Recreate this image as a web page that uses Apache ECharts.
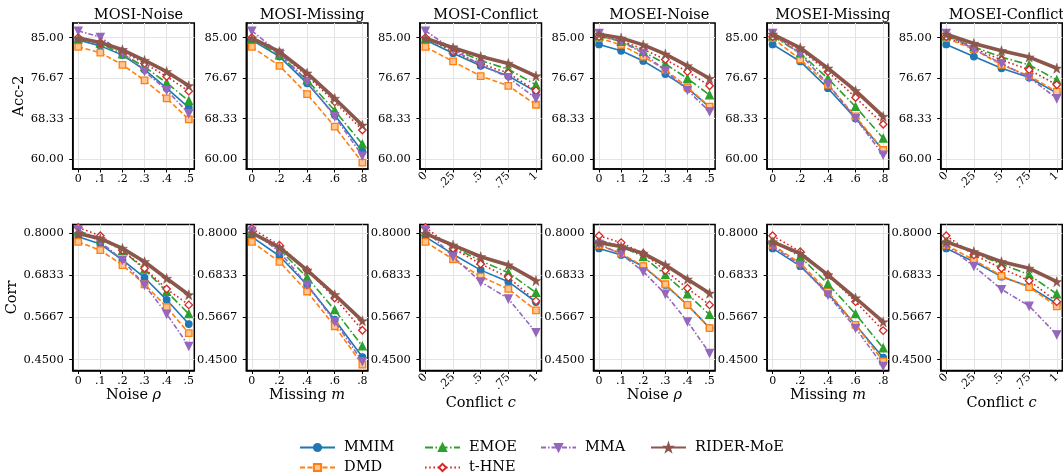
<!DOCTYPE html>
<html><head><meta charset="utf-8">
<script src="https://cdn.jsdelivr.net/npm/echarts@6/dist/echarts.min.js"></script>
<style>html,body{margin:0;padding:0;background:#fff}#c{width:1063px;height:474px}</style>
</head><body><div id="c"></div>
<script>
const methods = ['MMIM', 'DMD', 'EMOE', 't-HNE', 'MMA', 'RIDER-MoE'];
const panelTitles = ['MOSI-Noise', 'MOSI-Missing', 'MOSI-Conflict', 'MOSEI-Noise', 'MOSEI-Missing', 'MOSEI-Conflict'];
const xNoise = [0, 0.1, 0.2, 0.3, 0.4, 0.5];
const xMissing = [0, 0.2, 0.4, 0.6, 0.8];
const xConflict = [0, 0.25, 0.5, 0.75, 1];
const xNoiseLabels = ['0', '.1', '.2', '.3', '.4', '.5'];
const xMissingLabels = ['0', '.2', '.4', '.6', '.8'];
const xConflictLabels = ['0', '.25', '.5', '.75', '1'];
const accTicks = [60, 68.3333, 76.6667, 85];
const corrTicks = [0.45, 0.56667, 0.68333, 0.8];

// Acc-2 (rows: MMIM, DMD, EMOE, t-HNE, MMA, RIDER-MoE)
const accMosiNoise = [
  [84.5, 83.3, 81.4, 78.4, 74.6, 70.6],
  [83.1, 81.9, 79.4, 76.2, 72.5, 68.2],
  [84.7, 83.8, 81.6, 79.0, 75.7, 72.0],
  [85.0, 84.0, 82.1, 79.7, 77.0, 74.0],
  [86.4, 85.1, 81.9, 78.1, 74.2, 69.4],
  [84.9, 84.0, 82.5, 80.3, 78.0, 75.1]
];
const accMosiMissing = [
  [84.5, 81.1, 75.6, 69.1, 61.6],
  [83.1, 79.2, 73.4, 66.7, 59.3],
  [84.7, 81.4, 76.3, 70.0, 63.1],
  [85.0, 81.9, 77.1, 71.8, 66.0],
  [86.4, 81.8, 76.0, 68.8, 60.7],
  [84.9, 82.1, 77.7, 72.5, 67.0]
];
const accMosiConflict = [
  [84.5, 81.8, 79.2, 77.1, 73.9],
  [83.1, 80.1, 77.1, 75.1, 71.2],
  [84.7, 82.6, 80.3, 78.5, 75.3],
  [85.0, 82.1, 79.6, 77.7, 74.1],
  [86.4, 82.5, 79.4, 76.8, 72.5],
  [84.9, 82.9, 81.1, 79.7, 77.1]
];
const accMoseiNoise = [
  [83.6, 82.3, 80.2, 77.5, 74.6, 70.7],
  [84.9, 83.5, 81.1, 78.4, 74.8, 70.8],
  [85.3, 84.2, 82.1, 79.6, 76.6, 73.2],
  [85.2, 84.4, 82.6, 80.5, 78.0, 75.1],
  [85.9, 84.2, 81.8, 78.2, 74.2, 69.8],
  [85.7, 84.9, 83.5, 81.6, 79.2, 76.6]
];
const accMoseiMissing = [
  [83.6, 80.1, 74.6, 68.4, 61.9],
  [84.9, 80.5, 75.3, 68.8, 61.9],
  [85.3, 81.8, 76.6, 70.8, 64.3],
  [85.2, 82.5, 78.0, 72.7, 67.2],
  [85.9, 81.6, 75.5, 68.4, 60.9],
  [85.7, 82.9, 78.7, 74.1, 68.8]
];
const accMoseiConflict = [
  [83.6, 81.1, 78.7, 76.8, 73.6],
  [84.9, 82.6, 79.4, 77.1, 73.9],
  [85.3, 83.1, 81.0, 79.4, 76.3],
  [85.2, 82.8, 80.4, 78.4, 75.3],
  [85.9, 82.6, 79.7, 76.8, 72.5],
  [85.7, 83.8, 82.3, 81.0, 78.7]
];

// Corr
const corrMosiNoise = [
  [0.789, 0.769, 0.725, 0.676, 0.615, 0.548],
  [0.775, 0.752, 0.711, 0.658, 0.595, 0.523],
  [0.805, 0.784, 0.751, 0.699, 0.638, 0.576],
  [0.815, 0.792, 0.752, 0.702, 0.645, 0.601],
  [0.809, 0.775, 0.725, 0.656, 0.576, 0.487],
  [0.798, 0.784, 0.757, 0.720, 0.674, 0.629]
];
const corrMosiMissing = [
  [0.789, 0.736, 0.656, 0.560, 0.457],
  [0.775, 0.720, 0.638, 0.542, 0.436],
  [0.803, 0.754, 0.677, 0.587, 0.487],
  [0.812, 0.766, 0.697, 0.620, 0.531],
  [0.805, 0.748, 0.656, 0.555, 0.445],
  [0.800, 0.760, 0.697, 0.629, 0.557]
];
const corrMosiConflict = [
  [0.789, 0.741, 0.697, 0.665, 0.609],
  [0.775, 0.727, 0.679, 0.645, 0.586],
  [0.803, 0.760, 0.723, 0.690, 0.635],
  [0.815, 0.757, 0.714, 0.677, 0.612],
  [0.809, 0.734, 0.665, 0.618, 0.525],
  [0.798, 0.766, 0.734, 0.711, 0.668]
];
const corrMoseiNoise = [
  [0.757, 0.739, 0.707, 0.656, 0.601, 0.537],
  [0.766, 0.743, 0.708, 0.658, 0.601, 0.537],
  [0.780, 0.763, 0.734, 0.684, 0.631, 0.574],
  [0.792, 0.773, 0.743, 0.696, 0.647, 0.601],
  [0.769, 0.741, 0.693, 0.631, 0.555, 0.468],
  [0.773, 0.762, 0.743, 0.711, 0.672, 0.633]
];
const corrMoseiMissing = [
  [0.757, 0.708, 0.633, 0.546, 0.455],
  [0.766, 0.716, 0.638, 0.546, 0.445],
  [0.780, 0.734, 0.659, 0.576, 0.482],
  [0.792, 0.748, 0.684, 0.610, 0.530],
  [0.763, 0.711, 0.629, 0.537, 0.432],
  [0.775, 0.743, 0.684, 0.620, 0.554]
];
const corrMoseiConflict = [
  [0.757, 0.720, 0.679, 0.652, 0.604],
  [0.766, 0.725, 0.681, 0.650, 0.597],
  [0.780, 0.743, 0.714, 0.684, 0.631],
  [0.792, 0.739, 0.702, 0.668, 0.610],
  [0.766, 0.708, 0.644, 0.598, 0.519],
  [0.775, 0.748, 0.720, 0.702, 0.665]
];

const FONT = 'DejaVu Serif';
const STAR = 'path://M50,0 L61.2,34.5 L97.6,34.5 L68.2,55.9 L79.4,90.5 L50,69.1 L20.6,90.5 L31.8,55.9 L2.4,34.5 L38.8,34.5 Z';
const DOWN = 'path://M0,0 L10,0 L5,9 Z';
const styleDefs = [
  {color: '#1f77b4', dash: 'solid', width: 1.6, symbol: 'circle', size: 6.5, fill: '#1f77b4'},
  {color: '#ff7f0e', dash: [5, 2.5], width: 1.6, symbol: 'rect', size: 6.5, fill: '#ffc48f'},
  {color: '#2ca02c', dash: [8, 2.5, 1.5, 2.5], width: 1.6, symbol: 'triangle', size: 7.5, fill: '#2ca02c'},
  {color: '#d62728', dash: [1.6, 2.6], width: 1.6, symbol: 'diamond', size: 7.5, fill: '#ffffff'},
  {color: '#9467bd', dash: [5, 2, 1.5, 2], width: 1.6, symbol: DOWN, size: 7.5, fill: '#9467bd'},
  {color: '#8c564b', dash: 'solid', width: 3.6, symbol: STAR, size: 10, fill: '#8c564b'}
];

const panels = [
  {row: 0, col: 0, xs: xNoise, labels: xNoiseLabels, data: accMosiNoise, xname: 'Noise {i|ρ}'},
  {row: 0, col: 1, xs: xMissing, labels: xMissingLabels, data: accMosiMissing, xname: 'Missing {i|m}'},
  {row: 0, col: 2, xs: xConflict, labels: xConflictLabels, data: accMosiConflict, xname: 'Conflict {i|c}'},
  {row: 0, col: 3, xs: xNoise, labels: xNoiseLabels, data: accMoseiNoise, xname: 'Noise {i|ρ}'},
  {row: 0, col: 4, xs: xMissing, labels: xMissingLabels, data: accMoseiMissing, xname: 'Missing {i|m}'},
  {row: 0, col: 5, xs: xConflict, labels: xConflictLabels, data: accMoseiConflict, xname: 'Conflict {i|c}'},
  {row: 1, col: 0, xs: xNoise, labels: xNoiseLabels, data: corrMosiNoise, xname: 'Noise {i|ρ}'},
  {row: 1, col: 1, xs: xMissing, labels: xMissingLabels, data: corrMosiMissing, xname: 'Missing {i|m}'},
  {row: 1, col: 2, xs: xConflict, labels: xConflictLabels, data: corrMosiConflict, xname: 'Conflict {i|c}'},
  {row: 1, col: 3, xs: xNoise, labels: xNoiseLabels, data: corrMoseiNoise, xname: 'Noise {i|ρ}'},
  {row: 1, col: 4, xs: xMissing, labels: xMissingLabels, data: corrMoseiMissing, xname: 'Missing {i|m}'},
  {row: 1, col: 5, xs: xConflict, labels: xConflictLabels, data: corrMoseiConflict, xname: 'Conflict {i|c}'}
];

const GL = 72.7, GSTEP = 173.6, GW = 121.6, GH = 146;
const GT = [23, 224.5];
const grids = [], xAxes = [], yAxes = [], series = [], titles = [];

panels.forEach((p, i) => {
  const left = GL + GSTEP * p.col;
  grids.push({left: left, top: GT[p.row], width: GW, height: GH, show: true,
    borderColor: '#000', borderWidth: 1.5, backgroundColor: 'transparent', containLabel: false, outerBoundsMode: 'none'});
  const xmin = p.xs[0], xmax = p.xs[p.xs.length - 1], span = xmax - xmin;
  const isConflict = p.labels === xConflictLabels;
  xAxes.push({
    type: 'value', gridIndex: i, min: xmin - 0.05 * span, max: xmax + 0.05 * span,
    axisLine: {show: true, onZero: false, lineStyle: {color: '#000', width: 1.5}},
    axisTick: {show: true, inside: false, length: 3.5, lineStyle: {color: '#000', width: 1}, customValues: p.xs},
    splitLine: {show: true, lineStyle: {color: '#e4e4e4', width: 1}},
    axisLabel: {show: true, customValues: p.xs, margin: 5, rotate: isConflict ? 45 : 0,
      fontFamily: FONT, fontSize: 11, color: '#000', hideOverlap: false,
      formatter: v => { const k = p.xs.findIndex(x => Math.abs(x - v) < 1e-9); return k >= 0 ? p.labels[k] : ''; }},
    name: p.row === 1 ? p.xname : '', nameLocation: 'middle', nameGap: isConflict ? 25 : 17,
    nameTextStyle: {fontFamily: FONT, fontSize: 14.5, color: '#000', verticalAlign: 'top',
      rich: {i: {fontFamily: FONT, fontStyle: 'italic', fontSize: 14.5, color: '#000', verticalAlign: 'top'}}}
  });
  const ticks = p.row === 0 ? accTicks : corrTicks;
  yAxes.push({
    type: 'value', gridIndex: i,
    min: p.row === 0 ? 58.0 : 0.4198, max: p.row === 0 ? 88.0 : 0.823,
    axisLine: {show: true, onZero: false, lineStyle: {color: '#000', width: 1.5}},
    axisTick: {show: true, inside: false, length: 3.5, lineStyle: {color: '#000', width: 1}, customValues: ticks},
    splitLine: {show: true, lineStyle: {color: '#e4e4e4', width: 1}},
    axisLabel: {show: true, customValues: ticks, margin: 9, fontFamily: FONT, fontSize: 11.5, color: '#000',
      formatter: v => p.row === 0 ? v.toFixed(2) : v.toFixed(4)},
    name: p.col === 0 ? (p.row === 0 ? 'Acc-2' : 'Corr') : '', nameLocation: 'middle', nameRotate: 90,
    nameGap: p.row === 0 ? 44 : 52,
    nameTextStyle: {fontFamily: FONT, fontSize: 14.5, color: '#000'}
  });
  if (p.row === 0) {
    titles.push({text: panelTitles[p.col], left: left + GW / 2, top: 3, textAlign: 'center',
      textStyle: {fontFamily: FONT, fontSize: 14.5, fontWeight: 'normal', color: '#000'}});
  }
  p.data.forEach((vals, m) => {
    const s = styleDefs[m];
    series.push({
      type: 'line', name: methods[m], xAxisIndex: i, yAxisIndex: i,
      data: p.xs.map((x, k) => [x, vals[k]]),
      symbol: s.symbol, symbolSize: s.size, showSymbol: true, clip: false,
      lineStyle: {color: s.color, width: s.width, type: s.dash},
      itemStyle: {color: s.fill, borderColor: s.color, borderWidth: m === 5 ? 0.5 : 1.3},
      emphasis: {disabled: true}, z: 2 + m, animation: false
    });
  });
});

const legendPos = [
  {name: 'MMIM', left: 299, top: 440},
  {name: 'DMD', left: 299, top: 460},
  {name: 'EMOE', left: 424, top: 440},
  {name: 't-HNE', left: 424, top: 460},
  {name: 'MMA', left: 540, top: 440},
  {name: 'RIDER-MoE', left: 650, top: 440}
];
const legends = legendPos.map(c => ({
  left: c.left, top: c.top, orient: 'horizontal', padding: 0, itemWidth: 35, itemHeight: 9,
  data: [c.name], selectedMode: false,
  textStyle: {fontFamily: FONT, fontSize: 14.5, color: '#000', padding: [0, 0, 0, 4]}
}));

const chart = echarts.init(document.getElementById('c'), null, {renderer: 'canvas'});
chart.setOption({
  backgroundColor: '#fff', animation: false,
  title: titles, grid: grids, xAxis: xAxes, yAxis: yAxes, series: series, legend: legends
});
</script></body></html>
